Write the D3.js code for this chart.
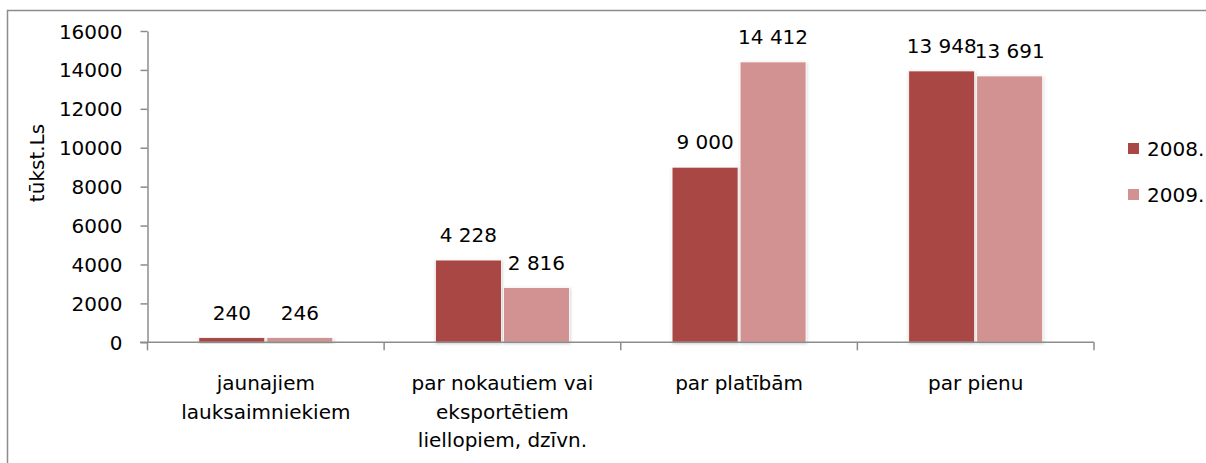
<!DOCTYPE html>
<html>
<head>
    <meta charset="utf-8">
    <title>atbalsts | bar</title>
    <style>
        body { margin: 0; background: #fff; }
        svg text { font-family: "DejaVu Sans", Verdana, sans-serif; font-size: 20px; fill: #000; }
        .axis path, .axis line { stroke: #8c8c8c; stroke-width: 1.5; }
    </style>
</head>
<body>
    <svg width="1206" height="463"></svg>

    <script src="https://cdn.jsdelivr.net/npm/d3@7/dist/d3.min.js"></script>
    <script>

    var categories = ['jaunajiem lauksaimniekiem', 'par nokautiem vai eksportētiem liellopiem, dzīvn.', 'par platībām', 'par pienu'];
    var categoryLines = [
        ['jaunajiem', 'lauksaimniekiem'],
        ['par nokautiem vai', 'eksportētiem', 'liellopiem, dzīvn.'],
        ['par platībām'],
        ['par pienu']
    ];
    var series = ['2008.', '2009.'];
    var values2008 = [240, 4228, 9000, 13948];
    var values2009 = [246, 2816, 14412, 13691];
    var yTicks = [0, 2000, 4000, 6000, 8000, 10000, 12000, 14000, 16000];
    var colors = ['#a94745', '#d39292'];

    var svg = d3.select('svg');

    // outer frame of the chart area, runs off right and bottom
    svg.append('rect')
        .attr('x', 7.5).attr('y', 10.5)
        .attr('width', 1230).attr('height', 480)
        .attr('fill', 'none').attr('stroke', '#8c8c8c').attr('stroke-width', 1.5);

    var x = d3.scaleBand().domain(categories).range([147.5, 1094]);
    var groupW = 134;
    var x1 = d3.scaleBand().domain(series)
        .range([(x.bandwidth() - groupW) / 2, (x.bandwidth() + groupW) / 2])
        .paddingInner(0.03);
    var y = d3.scaleLinear().domain([0, 16000]).range([342.3, 31]);

    var fmt = d3.formatLocale({ decimal: ',', thousands: ' ', grouping: [3], currency: ['', ''] }).format(',d');

    // y axis
    var yAxis = svg.append('g').attr('class', 'axis')
        .attr('transform', 'translate(147.5,0)')
        .call(d3.axisLeft(y).tickValues(yTicks).tickSize(7).tickSizeOuter(0).tickPadding(18).tickFormat(d3.format('d')));
    yAxis.selectAll('text').attr('dy', '0.35em');

    svg.append('text')
        .attr('transform', 'translate(44,163) rotate(-90)')
        .attr('text-anchor', 'middle')
        .text('tūkst.Ls');

    // bars
    var rows = categories.map(function(c, i) {
        return { cat: c, vals: [values2008[i], values2009[i]] };
    });

    var defs = svg.append('defs');
    var f = defs.append('filter').attr('id', 'sh').attr('x', '-10%').attr('y', '-10%').attr('width', '130%').attr('height', '130%');
    f.append('feDropShadow').attr('dx', 0.5).attr('dy', 1).attr('stdDeviation', 1.8).attr('flood-color', '#000').attr('flood-opacity', 0.2);

    var grp = svg.append('g').selectAll('g').data(rows).enter().append('g')
        .attr('transform', function(d) { return 'translate(' + x(d.cat) + ',0)'; });

    grp.selectAll('rect').data(function(d) { return d.vals; }).enter().append('rect')
        .attr('x', function(d, i) { return x1(series[i]); })
        .attr('y', function(d) { return y(d); })
        .attr('width', x1.bandwidth())
        .attr('height', function(d) { return y(0) - y(d); })
        .attr('fill', function(d, i) { return colors[i]; })
        .attr('stroke', '#fff').attr('stroke-width', 0.8)
        .attr('filter', 'url(#sh)');

    grp.selectAll('text.val').data(function(d) { return d.vals; }).enter().append('text')
        .attr('class', 'val')
        .attr('x', function(d, i) { return x1(series[i]) + x1.bandwidth() / 2; })
        .attr('y', function(d) { return y(d) - 18; })
        .attr('text-anchor', 'middle')
        .text(function(d) { return fmt(d); });

    // x axis with ticks between categories
    var xg = svg.append('g').attr('class', 'axis');
    xg.append('line')
        .attr('x1', 140).attr('x2', 1094).attr('y1', y(0)).attr('y2', y(0));
    var bounds = categories.map(function(c) { return x(c); }).concat([x.range()[1]]);
    xg.selectAll('line.tk').data(bounds).enter().append('line')
        .attr('class', 'tk')
        .attr('x1', function(d) { return d; }).attr('x2', function(d) { return d; })
        .attr('y1', y(0)).attr('y2', y(0) + 8);

    var lab = svg.append('g').selectAll('text').data(categories).enter().append('text')
        .attr('text-anchor', 'middle')
        .attr('x', function(d) { return x(d) + x.bandwidth() / 2; })
        .attr('y', 390);
    lab.selectAll('tspan').data(function(d, i) { return categoryLines[i]; }).enter().append('tspan')
        .attr('x', function() { return d3.select(this.parentNode).attr('x'); })
        .attr('dy', function(d, i) { return i ? 28.5 : 0; })
        .text(function(d) { return d; });

    // legend
    var leg = svg.append('g').selectAll('g').data(series).enter().append('g')
        .attr('transform', function(d, i) { return 'translate(1128,' + (143 + i * 46) + ')'; });
    leg.append('rect').attr('width', 11).attr('height', 11)
        .attr('fill', function(d, i) { return colors[i]; });
    leg.append('text').attr('x', 19).attr('y', 5.5).attr('dy', '0.35em').text(function(d) { return d; });

    </script>
</body>
</html>
